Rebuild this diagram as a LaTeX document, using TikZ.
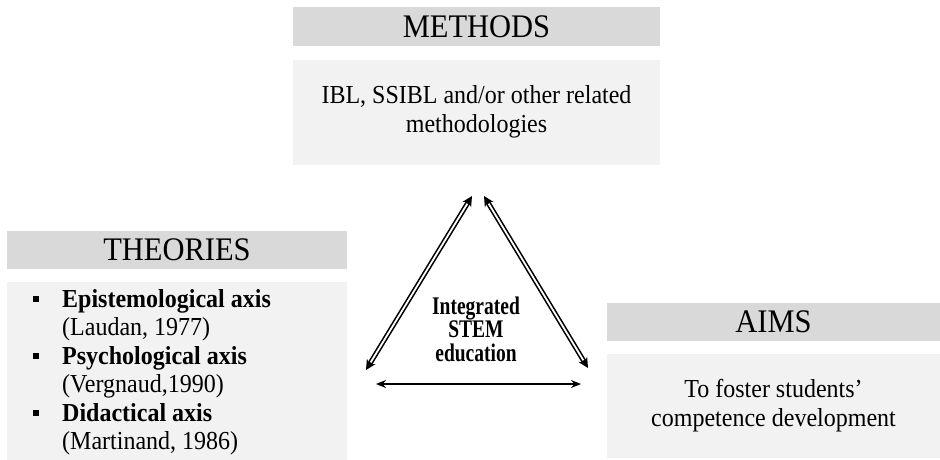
\documentclass[tikz,border=0pt]{standalone}
\usepackage{fontspec}
\usepackage{graphicx}
\setmainfont{Liberation Serif}
\usetikzlibrary{arrows.meta}
\definecolor{hdrgray}{HTML}{D9D9D9}
\definecolor{bodygray}{HTML}{F2F2F2}
\newcommand{\vs}[1]{\scalebox{1}[1.08]{#1}}
\newcommand{\vtab}[1]{\scalebox{1}[1.08]{\begin{tabular}{@{}c@{}}#1\end{tabular}}}
\newcommand{\sqbul}{\rule[5pt]{6pt}{6pt}}
\begin{document}
\begin{tikzpicture}[x=1pt,y=-1pt,
  hdr/.style={fill=hdrgray,draw=none,inner sep=0pt,font=\fontsize{30.5}{34}\selectfont},
  bodybox/.style={fill=bodygray,draw=none,inner sep=0pt,font=\fontsize{24}{26.8}\selectfont,align=center},
  item/.style={anchor=base west,inner sep=0pt,font=\fontsize{24}{28}\selectfont},
  dblouter/.style={line width=5pt,{Stealth[length=10pt,width=10pt]}-{Stealth[length=10pt,width=10pt]}},
  dblinner/.style={white,line width=1.8pt,shorten >=9pt,shorten <=9pt},
  sglarrow/.style={line width=1.8pt,{Stealth[length=10pt,width=8pt]}-{Stealth[length=10pt,width=8pt]}}
]
\useasboundingbox (0,0) rectangle (940,460);
\fill[white] (0,0) rectangle (940,460);
% METHODS
\node[hdr,minimum width=367pt,minimum height=39pt] (mh) at (476.5,26.5) {\vs{METHODS}};
\node[bodybox,minimum width=367pt,minimum height=105pt] (mb) at (476.5,112.5) {\vtab{IBL, SSIBL and/or other related\\methodologies}};
% THEORIES
\node[hdr,minimum width=340pt,minimum height=38pt] (th) at (177,250) {\vs{THEORIES}};
\node[bodybox,minimum width=340pt,minimum height=178pt] (tb) at (177,371) {};
\node[item] (b1) at (33,307) {\sqbul};
\node[item] (t1) at (62,307) {\vs{\textbf{Epistemological axis}}};
\node[item] (t2) at (62,335.5) {\vs{(Laudan, 1977)}};
\node[item] (b2) at (33,364) {\sqbul};
\node[item] (t3) at (62,364) {\vs{\textbf{Psychological axis}}};
\node[item] (t4) at (62,392.5) {\vs{(Vergnaud,1990)}};
\node[item] (b3) at (33,421) {\sqbul};
\node[item] (t5) at (62,421) {\vs{\textbf{Didactical axis}}};
\node[item] (t6) at (62,449.5) {\vs{(Martinand, 1986)}};
% AIMS
\node[hdr,minimum width=333pt,minimum height=38pt] (ah) at (773.5,322) {\vs{AIMS}};
\node[bodybox,minimum width=333pt,minimum height=104pt] (ab) at (773.5,406) {\vtab{To foster students'\\competence development}};
% centre
\node[font=\bfseries\fontsize{19.5}{16}\selectfont,inner sep=0pt] (ise) at (476,332) {\scalebox{1}[1.3]{\begin{tabular}{@{}c@{}}Integrated\\STEM\\education\end{tabular}}};
\coordinate (lb) at (366,370);
\coordinate (lt) at (472,196);
\coordinate (rt) at (484,196);
\coordinate (rb) at (588,368);
\coordinate (bl) at (376,384);
\coordinate (br) at (581,384);
\draw[dblouter] (lb) -- (lt);
\draw[dblinner] (lb) -- (lt);
\draw[dblouter] (rt) -- (rb);
\draw[dblinner] (rt) -- (rb);
\draw[sglarrow] (bl) -- (br);
\end{tikzpicture}
\end{document}
